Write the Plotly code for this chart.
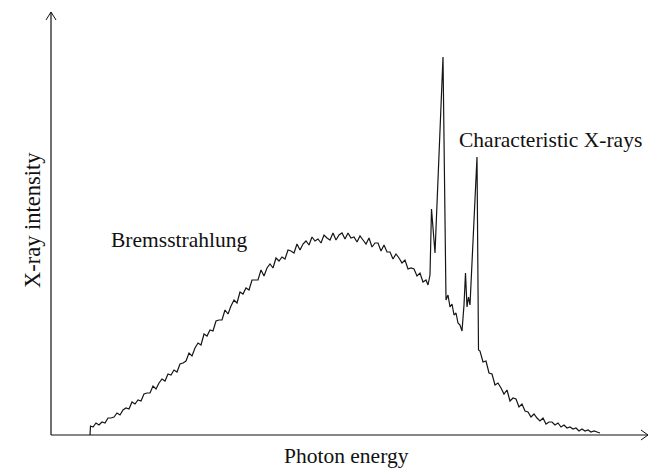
import plotly.graph_objects as go

# Photon energy (pixel-like units along the axis) and intensity readings
brems_energy = [90, 90.5, 93, 96, 99, 102, 105, 108, 111, 114, 117, 120, 123, 126, 129, 132, 135, 138, 141, 144,
                147, 150, 153, 156, 159, 162, 165, 168, 171, 174, 177, 180, 183, 186, 189, 192, 195, 198,
                201, 204, 207, 210, 213, 216, 219, 222, 225, 228, 231, 234, 237, 240, 243, 246, 249, 252,
                255, 258, 261, 264, 267, 270, 273, 276, 279, 282, 285, 288, 291, 294, 297, 300, 303, 306,
                309, 312, 315, 318, 321, 324, 327, 330, 333, 336, 339, 342, 345, 348, 351, 354, 357, 360,
                363, 366, 369, 372, 375, 378, 381, 384, 387, 390, 393, 396, 399, 402, 405, 408, 411, 414,
                417, 420, 423, 426, 428]
brems_intensity = [0, 9, 8, 12, 10, 13, 12, 17, 17, 18, 22, 20, 25, 27, 26, 33, 31, 35, 34, 41,
                   42, 42, 49, 46, 52, 56, 54, 61, 60, 65, 63, 71, 72, 74, 82, 79, 87, 92,
                   90, 101, 99, 105, 104, 114, 115, 115, 125, 121, 129, 135, 132, 143, 141, 147, 145, 155,
                   155, 155, 165, 159, 167, 171, 167, 177, 174, 178, 176, 185, 184, 182, 191, 185, 191, 194,
                   190, 198, 194, 196, 192, 200, 197, 195, 202, 195, 200, 202, 196, 202, 197, 198, 193, 199,
                   195, 191, 197, 188, 192, 192, 184, 190, 183, 183, 176, 181, 177, 172, 175, 166, 167, 166,
                   159, 162, 153, 155, 150]

peak_energy = [430, 431.5, 433, 435, 443, 446, 448, 450, 452, 454, 456, 458, 460, 462,
               464, 465.5, 467, 468.5, 470, 477, 478.5]
peak_intensity = [160, 226, 205, 182, 378, 135, 140, 128, 131, 120, 122, 112, 110, 104,
                  130, 162, 128, 138, 130, 278, 85]

tail_energy = [480, 483, 486, 489, 492, 495, 498, 501, 504, 507, 510, 513, 516, 519, 522, 525, 528,
               531, 534, 537, 540, 543, 546, 549, 552, 555, 558, 561, 564, 567, 570, 573, 576, 579,
               582, 585, 588, 591, 594, 597, 600]
tail_intensity = [84, 73, 74, 62, 61, 50, 52, 47, 41, 45, 34, 37, 36, 28, 31, 24, 23,
                  18, 21, 17, 14, 17, 11, 13, 13, 10, 12, 8, 10, 7, 8, 6, 7, 4,
                  6, 4, 5, 3, 4, 3, 2]

energy = brems_energy + peak_energy + tail_energy
intensity = brems_intensity + peak_intensity + tail_intensity

SERIF = "Liberation Serif, Times New Roman, serif"

fig = go.Figure()
fig.add_trace(go.Scatter(x=energy, y=intensity, mode="lines",
                         line=dict(color="#151515", width=1.2), hoverinfo="skip", showlegend=False))

# axes with open arrowheads (x: 51..648, y: 0..423 above baseline)
ax_col = "#111111"
fig.add_shape(type="line", x0=51, y0=0, x1=648, y1=0, line=dict(color=ax_col, width=1.2))
fig.add_shape(type="line", x0=51, y0=0, x1=51, y1=423, line=dict(color=ax_col, width=1.2))
fig.add_shape(type="path", path="M 641 5 L 648 0 L 641 -5", line=dict(color=ax_col, width=1))
fig.add_shape(type="path", path="M 46 415 L 51 423 L 56 415", line=dict(color=ax_col, width=1))

fig.add_annotation(x=178.5, y=195, text="Bremsstrahlung", showarrow=False,
                   font=dict(family=SERIF, size=21.5, color="#111"))
fig.add_annotation(x=550, y=295, text="Characteristic X-rays", showarrow=False,
                   font=dict(family=SERIF, size=21.5, color="#111"))
fig.add_annotation(x=346.5, y=-21, text="Photon energy", showarrow=False,
                   font=dict(family=SERIF, size=21.5, color="#111"))
fig.add_annotation(x=32, y=215, text="X-ray intensity", showarrow=False, textangle=-90,
                   font=dict(family=SERIF, size=22.5, color="#111"))

fig.update_layout(
    width=653, height=468,
    margin=dict(l=0, r=0, t=0, b=0),
    paper_bgcolor="white", plot_bgcolor="white",
    xaxis=dict(range=[0, 653], visible=False, fixedrange=True),
    yaxis=dict(range=[-33, 435], visible=False, fixedrange=True),
)

fig.write_html("out.html")
